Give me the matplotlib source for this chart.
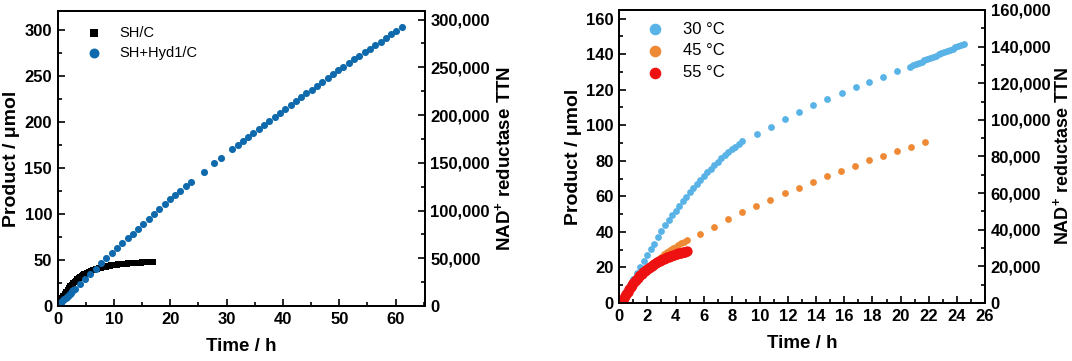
import numpy as np
import matplotlib
matplotlib.use("Agg")
from matplotlib import pyplot as plt
from matplotlib.ticker import MultipleLocator, StrMethodFormatter

plt.rcParams['font.family'] = ['Liberation Sans', 'DejaVu Sans']
plt.rcParams['mathtext.fontset'] = 'custom'
plt.rcParams['mathtext.bf'] = 'Liberation Sans:bold'
plt.rcParams['mathtext.rm'] = 'Liberation Sans'

# ---- left panel data: SH/C (black squares), sampled every 0.25 h
shc_time = np.arange(0, 17.01, 0.25)
shc_product = [0, 3.06, 5.92, 8.60, 11.11, 13.46, 15.66, 17.72, 19.65, 21.45,
               23.14, 24.72, 26.21, 27.60, 28.90, 30.11, 31.25, 32.32, 33.32, 34.25,
               35.13, 35.95, 36.72, 37.43, 38.11, 38.74, 39.33, 39.88, 40.40, 40.88,
               41.33, 41.76, 42.16, 42.53, 42.88, 43.20, 43.51, 43.80, 44.06, 44.31,
               44.55, 44.75, 44.95, 45.15, 45.33, 45.50, 45.66, 45.82, 45.97, 46.10,
               46.23, 46.36, 46.48, 46.60, 46.72, 46.83, 46.94, 47.05, 47.15, 47.25,
               47.35, 47.44, 47.53, 47.62, 47.70, 47.78, 47.86, 47.93, 48.00]

# SH+Hyd1/C (blue circles)
hyd_time = list(np.arange(0, 2.81, 0.2)) + [
    3.0, 3.94, 4.88, 5.82, 6.76, 7.70, 8.64, 9.58, 10.52, 11.46, 12.40, 13.34,
    14.28, 15.22, 16.16, 17.10, 18.04, 18.98, 19.92, 20.86, 21.80, 22.74, 23.68,
    25.9, 27.8, 29.0, 31.0,
    31.94, 32.88, 33.82, 34.76, 35.70, 36.64, 37.58, 38.52, 39.46,
    40.40, 41.34, 42.28, 43.22, 44.16, 45.10, 46.04, 46.98, 47.92, 48.86, 49.80,
    50.74, 51.68, 52.62, 53.56, 54.50, 55.44, 56.38, 57.32, 58.26, 59.20, 60.14, 61.08]
hyd_product = [0, 1.2, 2.4, 3.7, 4.9, 6.1, 7.3, 8.5, 9.8, 11.0, 12.2, 13.4, 14.6, 15.9, 17.1,
               18.0, 23.6, 29.3, 34.9, 40.6, 46.2, 51.8, 57.5, 62.9, 68.2, 73.5, 78.8,
               84.1, 89.4, 94.7, 100.0, 105.3, 110.6, 116.0, 120.7, 125.4, 130.2, 134.9,
               145.8, 155.0, 160.9, 170.6,
               175.0, 179.4, 183.8, 188.2, 192.5, 196.9, 201.3, 205.7, 210.1,
               214.4, 218.6, 222.8, 227.0, 231.2, 235.3, 239.5, 243.7, 247.9, 252.1, 256.3,
               260.3, 264.2, 268.0, 271.9, 275.8, 279.7, 283.6, 287.5, 291.4, 295.2, 299.1, 303.0]

# ---- right panel data
t30_time = list(np.arange(0, 8.76, 0.25)) + [
    9.78, 10.77, 11.79, 12.78, 13.8, 14.8, 15.8, 16.8, 17.77, 18.77, 19.76] + \
    list(np.arange(20.7, 24.51, 0.2))
t30_product = [0, 3.35, 6.7, 10.05, 13.4, 16.75, 20.1, 23.45, 26.8, 30.1, 33.4, 36.9,
               40.3, 43.6, 46.5, 49.3, 52.0, 54.7, 57.3, 59.8, 62.3, 64.6, 67.0, 69.2,
               71.4, 73.5, 75.6, 77.5, 79.5, 81.3, 83.1, 84.8, 86.4, 88.0, 89.5, 90.9,
               94.8, 99.0, 103.5, 107.5, 111.2, 114.8, 118.3, 121.3, 124.5, 127.3, 130.3,
               133.0, 133.7, 134.4, 135.0, 135.7, 136.4, 137.1, 137.7, 138.4, 139.1,
               139.8, 140.4, 141.1, 141.8, 142.5, 143.1, 143.8, 144.5, 145.2, 145.8]

t45_time = list(np.arange(0, 4.81, 0.2)) + [
    5.75, 6.75, 7.75, 8.75, 9.75, 10.75, 11.75, 12.75, 13.75, 14.75, 15.75,
    16.75, 17.75, 18.75, 19.75, 20.75, 21.75]
t45_product = [0, 2.2, 4.5, 6.8, 9.0, 11.0, 13.0, 14.8, 16.5, 18.1, 19.6, 21.0, 22.3,
               23.6, 24.9, 26.1, 27.3, 28.5, 29.6, 30.7, 31.7, 32.7, 33.6, 34.5, 35.3,
               38.8, 42.9, 47.0, 51.0, 54.7, 58.2, 61.6, 64.8, 68.2, 71.3, 74.3,
               77.3, 80.2, 82.8, 85.4, 87.8, 90.4]

t55_time = np.arange(0, 4.81, 0.1)
t55_product = [0, 0.8, 1.8, 2.9, 4.0, 5.2, 6.4, 7.6, 8.8, 10.0, 11.1, 12.1, 13.1,
               14.0, 14.9, 15.7, 16.5, 17.2, 17.9, 18.6, 19.2, 19.8, 20.4, 21.0,
               21.5, 22.0, 22.5, 23.0, 23.4, 23.8, 24.2, 24.6, 25.0, 25.3, 25.7,
               26.0, 26.3, 26.6, 26.9, 27.2, 27.4, 27.7, 27.9, 28.1, 28.3, 28.5,
               28.7, 28.9, 29.0]

fig = plt.figure(figsize=(10.72, 3.61), dpi=100)


def style(ax, axr, xmaj, xmin_, ymaj, ymin_, rmaj, rmin):
    for a in (ax, axr):
        for s in a.spines.values():
            s.set_linewidth(1.3)
    ax.xaxis.set_major_locator(MultipleLocator(xmaj))
    ax.xaxis.set_minor_locator(MultipleLocator(xmin_))
    ax.yaxis.set_major_locator(MultipleLocator(ymaj))
    ax.yaxis.set_minor_locator(MultipleLocator(ymin_))
    axr.yaxis.set_major_locator(MultipleLocator(rmaj))
    axr.yaxis.set_minor_locator(MultipleLocator(rmin))
    axr.yaxis.set_major_formatter(StrMethodFormatter('{x:,.0f}'))
    ax.tick_params(which='both', direction='in', top=False, right=False,
                   width=1.2, labelsize=12, pad=4)
    ax.tick_params(which='major', length=5)
    ax.tick_params(which='minor', length=3)
    axr.tick_params(which='both', direction='in', width=1.2, labelsize=12, pad=4)
    axr.tick_params(which='major', length=5)
    axr.tick_params(which='minor', length=3)
    for lab in ax.get_xticklabels() + ax.get_yticklabels() + axr.get_yticklabels():
        lab.set_fontweight('bold')
    ax.set_xlabel('Time / h', fontsize=13.5, fontweight='bold', labelpad=8)
    ax.set_ylabel('Product / μmol', fontsize=14, fontweight='bold', labelpad=3)
    axr.set_ylabel(r'NAD$^\mathbf{+}$ reductase TTN', fontsize=13.5,
                   fontweight='bold', labelpad=3)


# left panel
ax1 = fig.add_axes([0.0538, 0.1524, 0.3426, 0.8171])
ax1r = ax1.twinx()
ax1.scatter(shc_time, shc_product, marker='s', s=20, color='black', lw=0,
            label='SH/C', zorder=2)
ax1.scatter(hyd_time, hyd_product, marker='o', s=26, color='#0f6aad', lw=0,
            label='SH+Hyd1/C', zorder=3)
ax1.set_xlim(0, 65.2)
ax1.set_ylim(0, 320.7)
ax1r.set_ylim(0, 309000)
style(ax1, ax1r, 10, 5, 50, 25, 50000, 25000)
leg1 = ax1.legend(loc='upper left', frameon=False, fontsize=10.5, markerscale=1.4,
                  handletextpad=0.7, borderaxespad=0.6, labelspacing=0.45,
                  bbox_to_anchor=(0.02, 1.0))

# right panel
ax2 = fig.add_axes([0.5777, 0.1607, 0.3411, 0.8116])
ax2r = ax2.twinx()
ax2.scatter(t30_time, t30_product, marker='o', s=24, color='#5ab3e6', lw=0,
            label='30 °C', zorder=2)
ax2.scatter(t45_time, t45_product, marker='o', s=24, color='#ee8a35', lw=0,
            label='45 °C', zorder=3)
ax2.scatter(t55_time, t55_product, marker='o', s=55, color='#ee1111', lw=0,
            label='55 °C', zorder=4)
ax2.set_xlim(0, 26)
ax2.set_ylim(0, 164.8)
ax2r.set_ylim(0, 160000)
style(ax2, ax2r, 2, 1, 20, 10, 20000, 10000)
ax2r.yaxis.label.set_fontsize(13)
ax2r.yaxis.label.set_verticalalignment('center')
ax2r.yaxis.set_label_coords(1.21, 0.5)
leg2 = ax2.legend(loc='upper left', frameon=False, fontsize=12,
                  handletextpad=0.7, borderaxespad=0.3, labelspacing=0.4,
                  bbox_to_anchor=(0.02, 1.0))
for h in leg2.legend_handles:
    h.set_sizes([70])

fig.savefig('out.png', dpi=100)
